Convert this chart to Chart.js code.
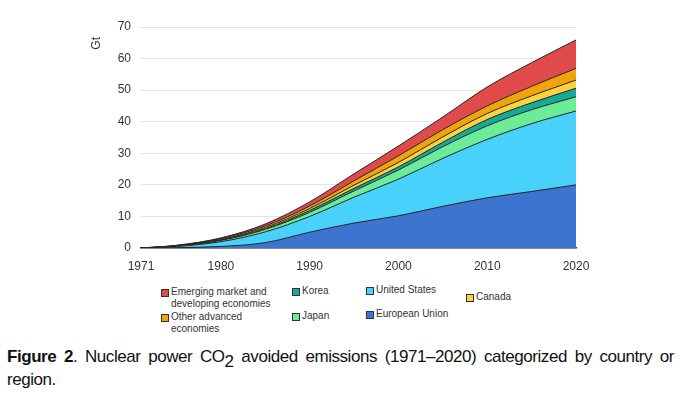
<!DOCTYPE html>
<html>
<head>
<meta charset="utf-8">
<script src="https://cdn.jsdelivr.net/npm/chart.js@4/dist/chart.umd.min.js"></script>
<style>
  body { margin:0; background:#fff; width:680px; height:395px; overflow:hidden; position:relative; font-family:"Liberation Sans", Arial, sans-serif; }
  #wrap { position:absolute; left:0; top:0; width:680px; height:280px; }
  .leg { position:absolute; font-size:10px; color:#333; line-height:12px; }
  .leg i { position:absolute; left:-10px; top:3px; width:6px; height:6px; border:1px solid #333; }
  #cap { position:absolute; left:7px; top:345px; width:667px; margin:0; font-size:17px; line-height:23px; color:#111; letter-spacing:-0.45px; }
  #cap .l1 { display:block; text-align:justify; text-align-last:justify; }
  #cap sub { font-size:17px; vertical-align:-5px; line-height:0; }
</style>
</head>
<body>
<div id="wrap"><canvas id="myChart"></canvas></div>
<div id="legend"></div>
<p id="cap"><span class="l1"><b>Figure 2</b>. Nuclear power CO<sub>2</sub> avoided emissions (1971–2020) categorized by country or</span>region.</p>
<script>
// cumulative avoided emissions, Gt
const years = [1971, 1975, 1980, 1985, 1990, 1995, 2000, 2005, 2010, 2015, 2020];
const xTicks = [1971, 1980, 1990, 2000, 2010, 2020];

const eu     = [0, 0.1, 0.5, 1.7, 5.0, 7.9, 10.2, 13.2, 15.9, 17.9, 20.0];
const us     = [0, 0.4, 1.5, 3.4, 5.0, 8.2, 11.6, 15.2, 18.5, 21.5, 23.4];
const japan  = [0, 0.1, 0.4, 0.8, 1.3, 2.0, 2.9, 3.7, 4.3, 4.4, 4.5];
const korea  = [0, 0, 0.1, 0.2, 0.6, 0.8, 1.0, 1.4, 2.0, 2.2, 2.7];
const canada = [0, 0.1, 0.2, 0.4, 0.6, 1.0, 1.4, 1.7, 1.9, 2.2, 2.6];
const otherAdv = [0, 0.1, 0.3, 0.5, 0.8, 1.4, 2.1, 2.3, 2.4, 3.0, 3.7];
const emde   = [0, 0.05, 0.2, 0.6, 1.3, 2.2, 3.1, 4.0, 6.0, 7.5, 9.0];

const series = [
  { label:'European Union', data:eu, color:'#3d74cf' },
  { label:'United States', data:us, color:'#48d2fb' },
  { label:'Japan', data:japan, color:'#6ceb98' },
  { label:'Korea', data:korea, color:'#16aa98' },
  { label:'Canada', data:canada, color:'#fdd23a' },
  { label:'Other advanced economies', data:otherAdv, color:'#f0a40c' },
  { label:'Emerging market and developing economies', data:emde, color:'#e04a4a' }
];

const datasets = series.map((s, i) => ({
  label: s.label,
  data: years.map((y, j) => ({ x: y, y: s.data[j] })),
  backgroundColor: s.color,
  borderColor: '#222',
  borderWidth: 1,
  pointRadius: 0,
  fill: i === 0 ? 'origin' : '-1',
  cubicInterpolationMode: 'monotone'
}));

Chart.defaults.font.family = '"Liberation Sans", Arial, sans-serif';
Chart.defaults.color = '#333';

window.myChart = new Chart(document.getElementById('myChart'), {
  type: 'line',
  data: { datasets },
  options: {
    responsive: true,
    maintainAspectRatio: false,
    animation: false,
    layout: { padding: { left: 89, right: 104, top: 27, bottom: 0 } },
    plugins: { legend: { display: false }, tooltip: { enabled: false } },
    scales: {
      x: {
        type: 'linear', min: 1971, max: 2020,
        afterBuildTicks: (a) => { a.ticks = xTicks.map(v => ({ value: v })); },
        afterFit: (a) => { a.height = 32; },
        ticks: { font: { size: 12 }, color: '#333', padding: 3, maxRotation: 0, callback: (v) => String(v) },
        grid: { display: false },
        border: { display: true, color: '#333', width: 1.5 }
      },
      y: {
        stacked: true, min: 0, max: 70,
        afterFit: (a) => { a.width = 52; },
        ticks: { stepSize: 10, font: { size: 12 }, color: '#333', padding: 10 },
        grid: { color: '#e2e2e2', drawTicks: false },
        border: { display: false },
        title: { display: true, text: 'Gt   ', align: 'end', font: { size: 12 }, color: '#333', padding: 0 }
      }
    }
  }
});

// legend laid out like the figure
const legendPos = {
  'Emerging market and developing economies': [171, 286, 'Emerging market and<br>developing economies'],
  'Other advanced economies': [171, 311, 'Other advanced<br>economies'],
  'Korea': [302, 285, 'Korea'],
  'Japan': [302, 310, 'Japan'],
  'United States': [376, 284, 'United States'],
  'European Union': [376, 308, 'European Union'],
  'Canada': [476, 291, 'Canada']
};
let html = '';
series.forEach(s => {
  const p = legendPos[s.label];
  html += `<div class="leg" style="left:${p[0]}px;top:${p[1]}px"><i style="background:${s.color}"></i>${p[2]}</div>`;
});
document.getElementById('legend').innerHTML = html;
</script>
</body>
</html>
